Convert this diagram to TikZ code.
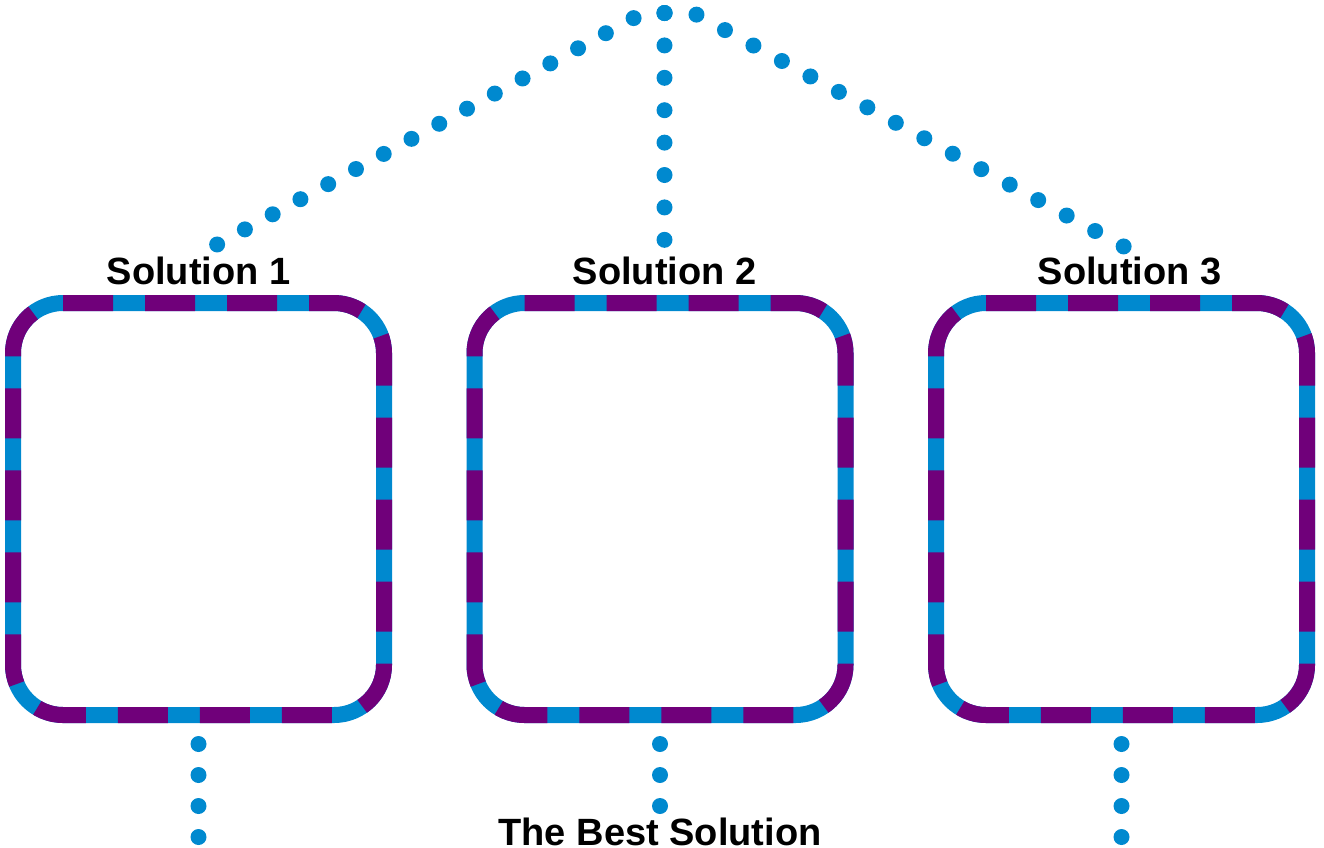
\documentclass[tikz,border=0pt]{standalone}
\usepackage{fontspec}
\setmainfont{Liberation Sans}
\usepackage{tikz}

\definecolor{solblue}{RGB}{0,137,207}
\definecolor{solpurple}{RGB}{112,0,122}

\begin{document}
\begin{tikzpicture}[x=1pt,y=-1pt,node distance=461.5pt,
  main node/.style={rectangle,rounded corners=50pt,draw=solblue,line width=16pt,
    minimum width=371pt,minimum height=412pt,inner sep=0pt,
    postaction={draw=solpurple,line width=16pt,dash pattern=on 50pt off 32pt,dash phase=25pt}},
  title node/.style={font=\bfseries\fontsize{38}{40}\selectfont,inner sep=0pt,outer sep=0pt,
    text height=28pt,text depth=0pt},
  dot line/.style={draw=solblue,line width=16pt,line cap=round,dash pattern=on 0pt off 32.4pt}]

 \useasboundingbox (0,0) rectangle (1324,847);

 \node[main node] (box1) at (198.5,509) {};
 \node[main node] (box2) [right of=box1] {};
 \node[main node] (box3) [right of=box2] {};

 \node[title node] (sol1) [above of=box1,node distance=239pt] {Solution 1};
 \node[title node,xshift=4.5pt] (sol2) [above of=box2,node distance=239pt] {Solution 2};
 \node[title node,xshift=8pt] (sol3) [above of=box3,node distance=239pt] {Solution 3};
 \node[title node] (best) [below of=box2,node distance=322pt] {The Best Solution};

 \coordinate[above of=sol2,node distance=257pt] (apex);
 \coordinate[below of=box1,node distance=350pt] (end1);
 \coordinate[below of=box3,node distance=350pt] (end3);

 % top
 \draw[dot line,dash pattern=on 0pt off 31.6pt] (apex) -- ++(-27,3) -- ([xshift=14pt,yshift=9pt]sol1.north);
 \draw[dot line] (apex) -- (sol2.north);
 \draw[dot line] (apex) -- ++(29,0) -- ([xshift=-3pt,yshift=8pt]sol3.north);

 % bottom
 \draw[dot line,dash pattern=on 0pt off 31pt,shorten <=21pt] (box1.south) -- (end1);
 \draw[dot line,dash pattern=on 0pt off 31pt,shorten <=21pt] (box2.south) -- (best.north);
 \draw[dot line,dash pattern=on 0pt off 31pt,shorten <=21pt] (box3.south) -- (end3);

\end{tikzpicture}
\end{document}
